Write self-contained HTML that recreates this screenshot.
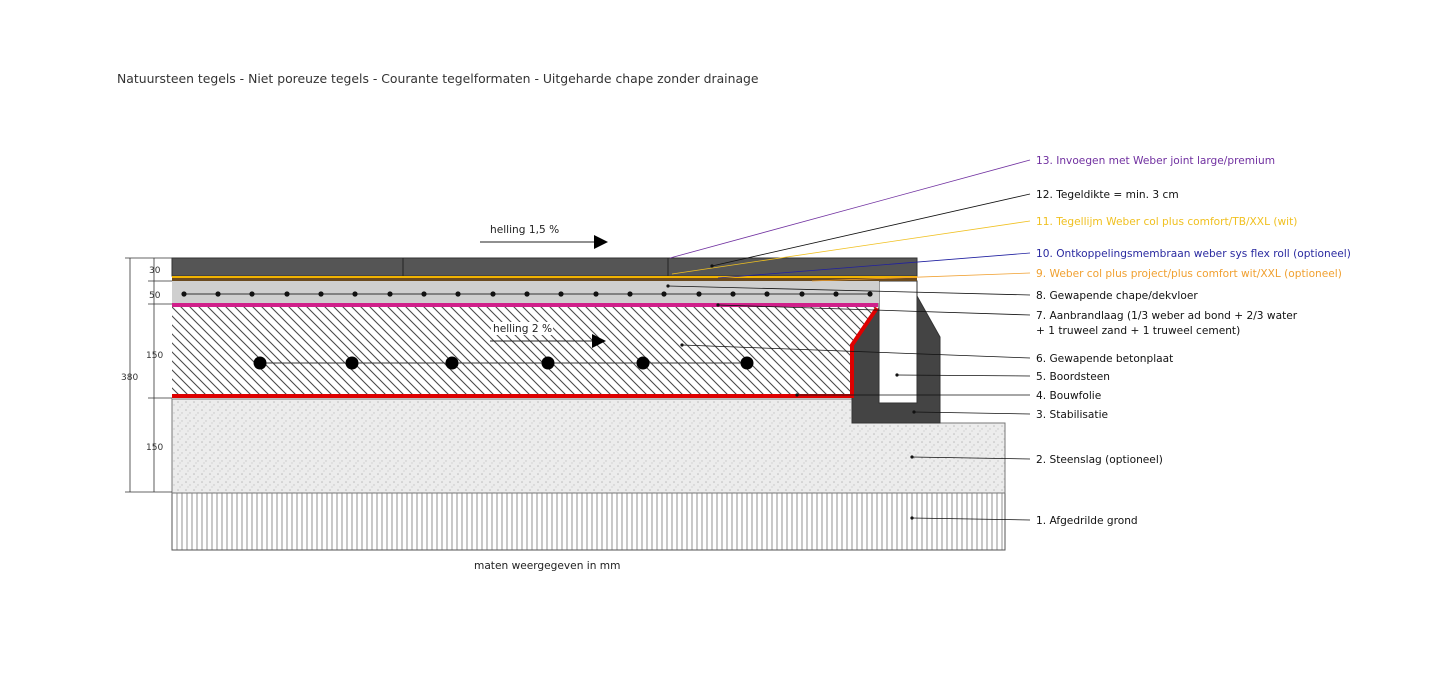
<!DOCTYPE html>
<html><head><meta charset="utf-8"><style>
body{margin:0;background:#fff;}
svg{display:block;font-family:"DejaVu Sans","Liberation Sans",sans-serif;}
</style></head><body>
<svg width="1440" height="697" viewBox="0 0 1440 697" xmlns="http://www.w3.org/2000/svg">
<defs>
<pattern id="hatch" width="9" height="9" patternUnits="userSpaceOnUse">
<path d="M-3,-3 L12,12 M-3,6 L3,12 M6,-3 L12,3" stroke="#4a4a4a" stroke-width="1.1" fill="none"/>
</pattern>
<pattern id="grav" width="8" height="8" patternUnits="userSpaceOnUse">
<rect width="8" height="8" fill="#ececec"/>
<circle cx="2" cy="2" r="0.8" fill="#bbb"/><circle cx="6" cy="5" r="0.7" fill="#c4c4c4"/><circle cx="4" cy="7" r="0.5" fill="#aaa"/>
</pattern>
<pattern id="grnd" width="5" height="10" patternUnits="userSpaceOnUse">
<rect width="5" height="10" fill="#fff"/><line x1="2" y1="0" x2="2" y2="10" stroke="#777" stroke-width="0.8"/>
</pattern>
</defs>
<text x="117" y="83" font-size="12.4" fill="#333">Natuursteen tegels - Niet poreuze tegels - Courante tegelformaten - Uitgeharde chape zonder drainage</text>

<rect x="172" y="493" width="833" height="57" fill="url(#grnd)" stroke="#555"/>
<path d="M172,399 L852,399 L852,423 L1005,423 L1005,493 L172,493 Z" fill="url(#grav)" stroke="#777"/>
<path d="M172,307 L877,307 L852,345 L852,395 L172,395 Z" fill="url(#hatch)"/>
<path d="M852,345 L879,308 L879,403 L917,403 L917,296 L940,337 L940,423 L852,423 Z" fill="#444" stroke="#333"/>
<rect x="879" y="281" width="38" height="122" fill="#fff" stroke="#333"/>
<path d="M172,396 L852,396 L852,345 L877,308" fill="none" stroke="#d00" stroke-width="4"/>
<rect x="172" y="303" width="706" height="4" fill="#d0208a"/>
<rect x="172" y="281" width="707" height="22" fill="#cfcfcf"/>
<line x1="184" y1="294" x2="870" y2="294" stroke="#333" stroke-width="1"/>
<g fill="#111">
<circle cx="184" cy="294" r="2.6"/><circle cx="218" cy="294" r="2.6"/><circle cx="252" cy="294" r="2.6"/><circle cx="287" cy="294" r="2.6"/><circle cx="321" cy="294" r="2.6"/><circle cx="355" cy="294" r="2.6"/><circle cx="390" cy="294" r="2.6"/><circle cx="424" cy="294" r="2.6"/><circle cx="458" cy="294" r="2.6"/><circle cx="493" cy="294" r="2.6"/><circle cx="527" cy="294" r="2.6"/><circle cx="561" cy="294" r="2.6"/><circle cx="596" cy="294" r="2.6"/><circle cx="630" cy="294" r="2.6"/><circle cx="664" cy="294" r="2.6"/><circle cx="699" cy="294" r="2.6"/><circle cx="733" cy="294" r="2.6"/><circle cx="767" cy="294" r="2.6"/><circle cx="802" cy="294" r="2.6"/><circle cx="836" cy="294" r="2.6"/><circle cx="870" cy="294" r="2.6"/>
</g>
<rect x="172" y="258" width="745" height="18" fill="#555" stroke="#333"/>
<line x1="403" y1="258" x2="403" y2="276" stroke="#222"/>
<line x1="668" y1="258" x2="668" y2="276" stroke="#222"/>
<rect x="172" y="276" width="745" height="2" fill="#f2b400"/>
<rect x="172" y="278" width="745" height="3" fill="#6a4a20"/>
<line x1="260" y1="363" x2="747" y2="363" stroke="#333"/>
<g fill="#000"><circle cx="260" cy="363" r="6.5"/><circle cx="352" cy="363" r="6.5"/><circle cx="452" cy="363" r="6.5"/><circle cx="548" cy="363" r="6.5"/><circle cx="643" cy="363" r="6.5"/><circle cx="747" cy="363" r="6.5"/></g>

<text x="490" y="233" font-size="10.6" fill="#222">helling 1,5 %</text>
<line x1="480" y1="242" x2="595" y2="242" stroke="#222"/>
<path d="M594,235 L608,242 L594,249 Z" fill="#000"/>
<rect x="491" y="322" width="62" height="13" fill="#fff"/>
<text x="493" y="332" font-size="10.6" fill="#222">helling 2 %</text>
<line x1="490" y1="341" x2="592" y2="341" stroke="#222"/>
<path d="M592,334 L606,341 L592,348 Z" fill="#000"/>

<g stroke="#333" stroke-width="0.8" fill="none">
<line x1="130" y1="258" x2="130" y2="492"/>
<line x1="154" y1="258" x2="154" y2="492"/>
<line x1="125" y1="258" x2="172" y2="258"/>
<line x1="148" y1="281" x2="172" y2="281"/>
<line x1="148" y1="304" x2="172" y2="304"/>
<line x1="148" y1="398" x2="172" y2="398"/>
<line x1="125" y1="492" x2="172" y2="492"/>
</g>
<g fill="#333" font-size="9">
<text x="149" y="273">30</text><text x="149" y="298">50</text><text x="146" y="358">150</text><text x="146" y="450">150</text><text x="121" y="380">380</text>
</g>

<g stroke-width="0.8" fill="none">
<line x1="1030" y1="160" x2="670" y2="258" stroke="#7030a0"/>
<line x1="1030" y1="194" x2="712" y2="266" stroke="#111"/>
<line x1="1030" y1="221" x2="672" y2="274" stroke="#f0c020"/>
<line x1="1030" y1="253" x2="718" y2="278" stroke="#2020a0"/>
<line x1="1030" y1="273" x2="812" y2="281" stroke="#f0a030"/>
<line x1="1030" y1="295" x2="668" y2="286" stroke="#111"/>
<line x1="1030" y1="315" x2="718" y2="305" stroke="#111"/>
<line x1="1030" y1="358" x2="682" y2="345" stroke="#111"/>
<line x1="1030" y1="376" x2="897" y2="375" stroke="#111"/>
<line x1="1030" y1="395" x2="797" y2="395" stroke="#111"/>
<line x1="1030" y1="414" x2="914" y2="412" stroke="#111"/>
<line x1="1030" y1="459" x2="912" y2="457" stroke="#111"/>
<line x1="1030" y1="520" x2="912" y2="518" stroke="#111"/>
</g>
<g fill="#111">
<circle cx="897" cy="375" r="1.6"/><circle cx="797" cy="395" r="1.6"/><circle cx="914" cy="412" r="1.6"/><circle cx="912" cy="457" r="1.6"/><circle cx="912" cy="518" r="1.6"/><circle cx="682" cy="345" r="1.6"/><circle cx="718" cy="305" r="1.6"/><circle cx="668" cy="286" r="1.6"/><circle cx="712" cy="266" r="1.6"/>
</g>
<g font-size="10.6">
<text x="1036" y="164" fill="#7030a0">13. Invoegen met Weber joint large/premium</text>
<text x="1036" y="198" fill="#111">12. Tegeldikte = min. 3 cm</text>
<text x="1036" y="225" fill="#f0c020">11. Tegellijm Weber col plus comfort/TB/XXL (wit)</text>
<text x="1036" y="257" fill="#2a2aa0">10. Ontkoppelingsmembraan weber sys flex roll (optioneel)</text>
<text x="1036" y="277" fill="#f0a030">9. Weber col plus project/plus comfort wit/XXL (optioneel)</text>
<text x="1036" y="299" fill="#111">8. Gewapende chape/dekvloer</text>
<text x="1036" y="319" fill="#111">7. Aanbrandlaag (1/3 weber ad bond + 2/3 water</text>
<text x="1036" y="334" fill="#111">+ 1 truweel zand + 1 truweel cement)</text>
<text x="1036" y="362" fill="#111">6. Gewapende betonplaat</text>
<text x="1036" y="380" fill="#111">5. Boordsteen</text>
<text x="1036" y="399" fill="#111">4. Bouwfolie</text>
<text x="1036" y="418" fill="#111">3. Stabilisatie</text>
<text x="1036" y="463" fill="#111">2. Steenslag (optioneel)</text>
<text x="1036" y="524" fill="#111">1. Afgedrilde grond</text>
<text x="474" y="569" fill="#222">maten weergegeven in mm</text>
</g>
</svg>
</body></html>
